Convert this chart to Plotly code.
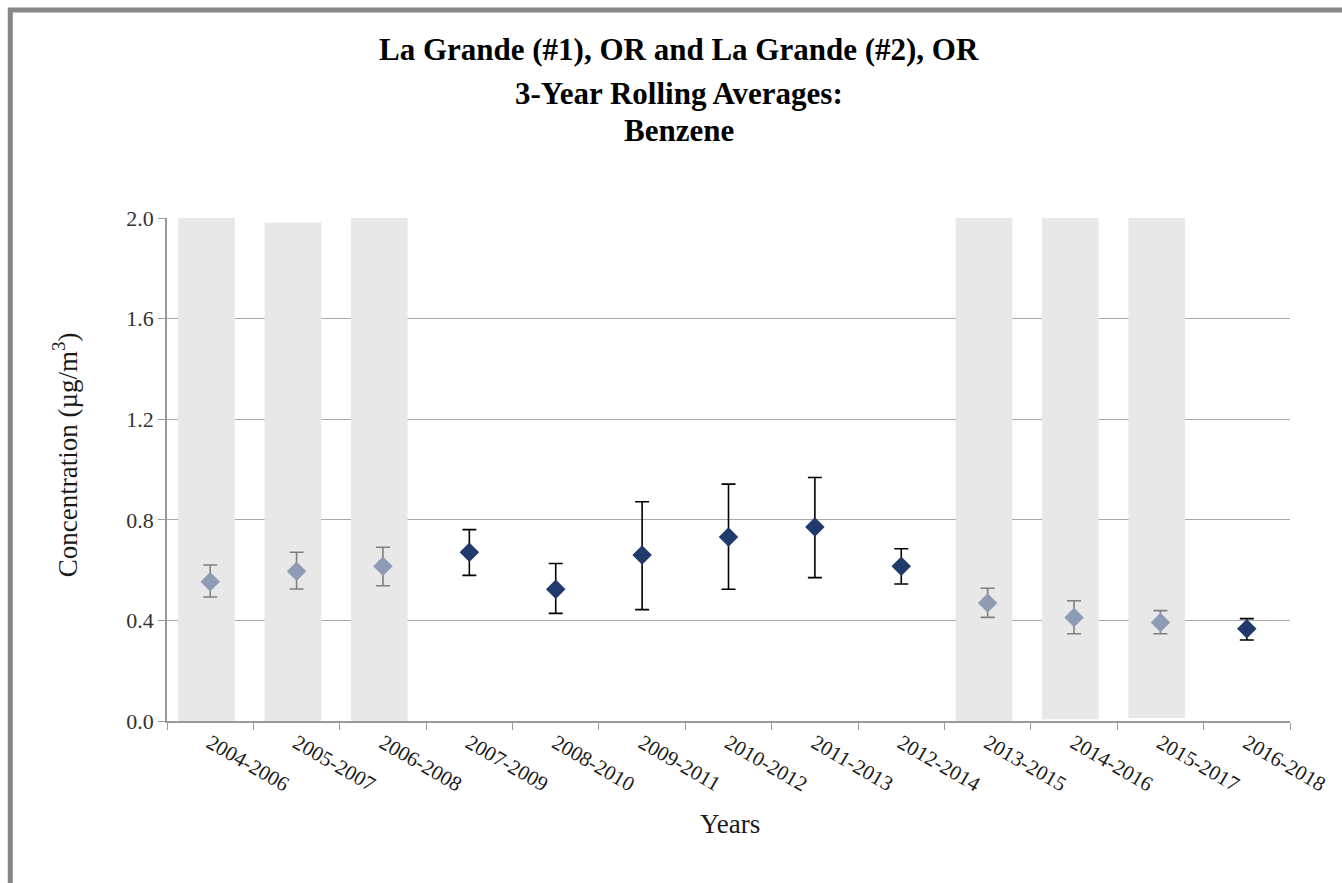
import plotly.graph_objects as go

# Three-year rolling periods
periods = ["2004-2006", "2005-2007", "2006-2008", "2007-2009", "2008-2010",
           "2009-2011", "2010-2012", "2011-2013", "2012-2014", "2013-2015",
           "2014-2016", "2015-2017", "2016-2018"]

# Rolling average concentrations (µg/m³) and 95% confidence bounds
means = [0.554, 0.595, 0.615, 0.671, 0.524, 0.660, 0.732, 0.771, 0.615,
         0.469, 0.412, 0.392, 0.367]
upper = [0.620, 0.671, 0.691, 0.761, 0.626, 0.872, 0.942, 0.968, 0.685,
         0.528, 0.478, 0.439, 0.407]
lower = [0.493, 0.525, 0.538, 0.579, 0.428, 0.443, 0.524, 0.570, 0.545,
         0.412, 0.347, 0.347, 0.322]

# Periods with incomplete data are shaded and drawn in a lighter colour
incomplete = [True, True, True, False, False, False, False, False, False,
              True, True, True, False]
shade_bottom = [0.0, -0.023, -0.01, None, None, None, None, None, None,
                0.0, 0.007, 0.012, None]
shade_top = [2.0, 1.981, 2.0, None, None, None, None, None, None,
             2.008, 2.016, 2.016, None]

y_ticks = [0.0, 0.4, 0.8, 1.2, 1.6, 2.0]

SERIF = "Liberation Serif"
DARK = "#1F3A6B"
LIGHT = "#8E9BB4"

fig = go.Figure()

# Shaded background bands
shade_h = [None if b is None else t - b for b, t in zip(shade_bottom, shade_top)]
fig.add_trace(go.Bar(
    x=periods, y=shade_h, base=shade_bottom,
    marker=dict(color="#E8E8E8", line=dict(width=0)),
    width=0.655, offset=-0.37, hoverinfo="skip", showlegend=False,
    cliponaxis=False,
))


def series(flag, color, err_color):
    ys, ep, em = [], [], []
    for m, u, l, inc in zip(means, upper, lower, incomplete):
        if inc == flag:
            ys.append(m)
            ep.append(u - m)
            em.append(m - l)
        else:
            ys.append(None)
            ep.append(None)
            em.append(None)
    return go.Scatter(
        x=periods, y=ys, mode="markers",
        marker=dict(symbol="diamond", size=15, color=color,
                    line=dict(width=0)),
        error_y=dict(type="data", symmetric=False, array=ep, arrayminus=em,
                     color=err_color, thickness=1.6, width=7),
        showlegend=False,
    )


fig.add_trace(series(True, LIGHT, "#7F7F7F"))
fig.add_trace(series(False, DARK, "#000000"))

L, R, T, B = 167, 50, 218, 162
W, H = 1342, 883
pw, ph = W - L - R, H - T - B


def px_x(x):
    return (x - L) / pw


def px_y(y):
    return (H - B - y) / ph


title_font = dict(size=31, color="#000000", family=SERIF)
label_font = dict(size=27, color="#1a1a1a", family=SERIF)

annotations = [
    dict(text="<b>La Grande (#1), OR and La Grande (#2), OR</b>",
         x=px_x(680), y=px_y(50), font=title_font),
    dict(text="<b>3-Year Rolling Averages:</b>", x=px_x(680), y=px_y(93),
         font=title_font),
    dict(text="<b>Benzene</b>", x=px_x(680), y=px_y(130), font=title_font),
    dict(text="Concentration (µg/m<sup>3</sup>)", x=px_x(65), y=px_y(455),
         textangle=-90, font=label_font),
    dict(text="Years", x=px_x(731), y=px_y(824), font=label_font),
]
for a in annotations:
    a.update(xref="paper", yref="paper", xanchor="center", yanchor="middle",
             showarrow=False)

fig.update_layout(
    width=W, height=H,
    margin=dict(l=L, r=R, t=T, b=B, pad=0),
    paper_bgcolor="white", plot_bgcolor="white",
    barmode="overlay",
    annotations=annotations,
    shapes=[dict(type="rect", xref="paper", yref="paper",
                 x0=px_x(10), x1=px_x(1400), y0=px_y(950), y1=px_y(10),
                 line=dict(color="#878787", width=5), layer="below")],
)

fig.update_xaxes(
    type="category", categoryorder="array", categoryarray=periods,
    range=[-0.5, len(periods) - 0.5],
    showline=True, linecolor="#9A9A9A", linewidth=1.5,
    ticks="outside", tickson="boundaries", ticklen=7, tickcolor="#9A9A9A",
    tickangle=30, showgrid=False,
    tickfont=dict(size=21, color="#1a1a1a", family=SERIF),
)
fig.update_yaxes(
    range=[0, 2.0], tickvals=y_ticks,
    ticktext=[f"{v:.1f}" for v in y_ticks],
    showline=True, linecolor="#9A9A9A", linewidth=1.5,
    ticks="outside", ticklen=7, tickcolor="#9A9A9A",
    showgrid=True, gridcolor="#A8A8A8", gridwidth=1.2,
    zeroline=False,
    tickfont=dict(size=22, color="#333333", family=SERIF),
)

fig.write_html("out.html")
